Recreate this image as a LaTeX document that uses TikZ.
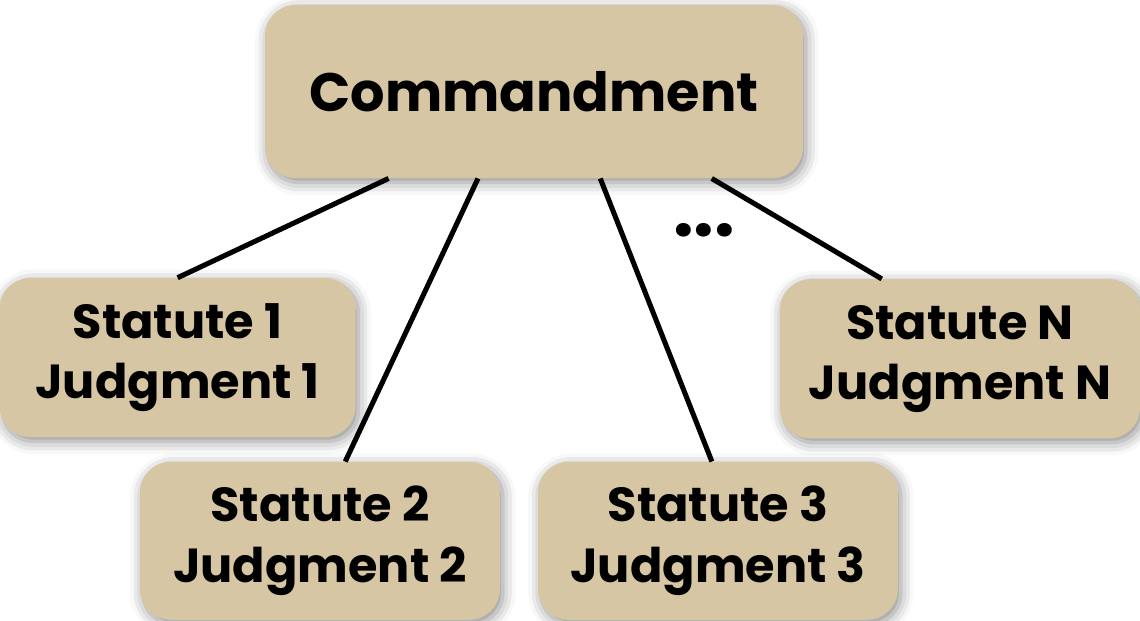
\documentclass[tikz,border=0pt]{standalone}
\usepackage{fontspec}
\setmainfont{Poppins}
\usepackage{tikz}
\usetikzlibrary{positioning, calc, shadows.blur}

\definecolor{wood}{RGB}{214,198,164}

\tikzset{
    box/.style={rectangle, rounded corners=22pt, fill=wood, draw=none, align=center,
        font=\fontsize{34}{43}\selectfont\bfseries,
        blur shadow={shadow xshift=2pt, shadow yshift=-3pt, shadow blur radius=9pt, shadow opacity=45}},
    link/.style={line width=3.6pt, black}
}

\begin{document}
\begin{tikzpicture}
    \useasboundingbox (0,0) rectangle (28.5,15.5);

    % Commandment
    \node (cmd) [box, minimum width=13.45cm, minimum height=4.33cm,
        font=\fontsize{38.5}{44}\selectfont\bfseries] at (13.35,13.21) {Commandment};

    % Statutes
    \node (s1) [box, minimum width=8.9cm, minimum height=3.98cm] at (4.44,6.56) {Statute 1\\Judgment 1};
    \node (s2) [box, minimum width=9cm, minimum height=3.95cm] at (8.0,1.98) {Statute 2\\Judgment 2};
    \node (s3) [box, minimum width=9cm, minimum height=3.95cm] at (17.95,1.98) {Statute 3\\Judgment 3};
    \node (sN) [box, minimum width=9cm, minimum height=3.98cm] at (24.0,6.53) {Statute N\\Judgment N};

    % Links
    \draw[link] ($(cmd.south west)!0.23!(cmd.south east)$) -- (s1.north);
    \draw[link] ($(cmd.south west)!0.396!(cmd.south east)$) -- ($(s2.north west)!0.57!(s2.north east)$);
    \draw[link] ($(cmd.south west)!0.623!(cmd.south east)$) -- ($(s3.north west)!0.483!(s3.north east)$);
    \draw[link] ($(cmd.south west)!0.83!(cmd.south east)$) -- ($(sN.north west)!0.283!(sN.north east)$);

    % More statutes
    \node (more) at (17.6,9.75) {\fontsize{52}{52}\selectfont\bfseries ...};
\end{tikzpicture}
\end{document}
